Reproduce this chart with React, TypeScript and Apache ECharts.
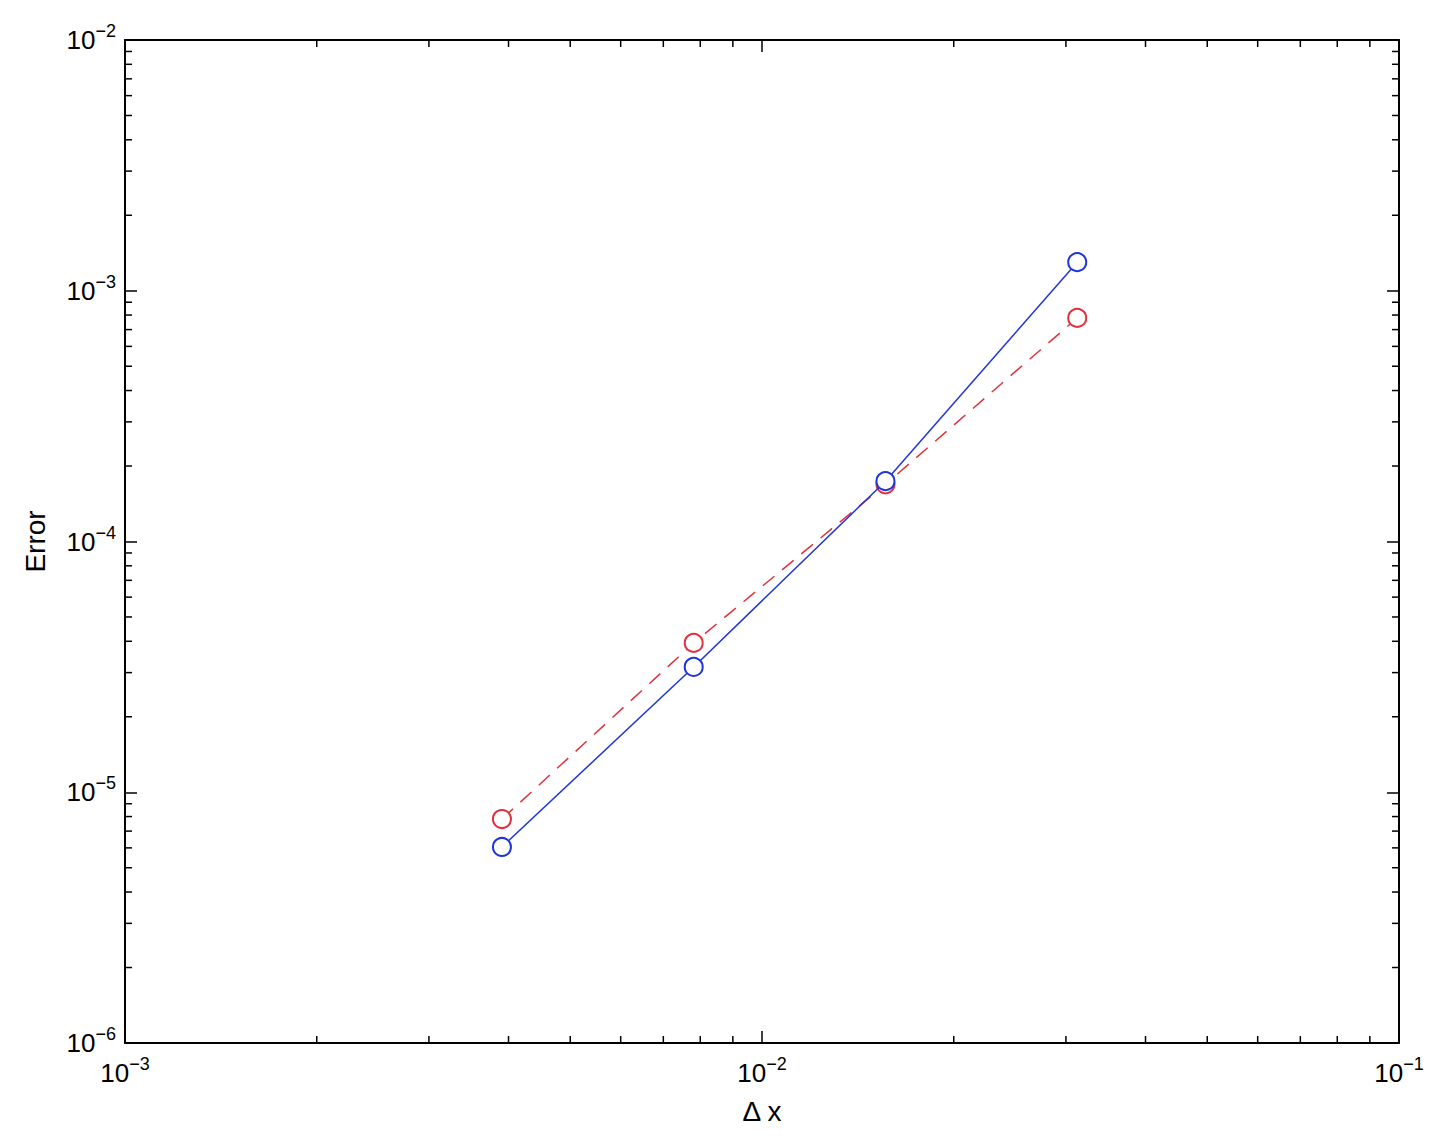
import React, { useEffect, useRef } from "react";
import * as echarts from "echarts";

const dx = [0.00390625, 0.0078125, 0.015625, 0.03125];
const errBlue = [6.05e-6, 3.16e-5, 1.74e-4, 1.3e-3];
const errRed = [7.82e-6, 3.94e-5, 1.69e-4, 7.79e-4];
const xRange = [1e-3, 1e-1];
const yRange = [1e-6, 1e-2];

function minorTicks(lo: number, hi: number): number[] {
  const out: number[] = [];
  for (let d = lo; d < hi * 0.999; d *= 10) {
    for (let m = 2; m <= 9; m++) out.push(d * m);
  }
  return out;
}

const FONT = "'Liberation Sans', Arial, Helvetica, sans-serif";

function expLabel(v: number) {
  const e = Math.round(Math.log10(v));
  return "{b|10}{sup|" + (e < 0 ? "\u2212" + -e : String(e)) + "}";
}

const labelRich = {
  b: { fontSize: 26, fontFamily: FONT, color: "#000" },
  sup: { fontSize: 18, fontFamily: FONT, color: "#000", padding: [0, 0, 18, 0] },
};

export default function App() {
  const ref = useRef<HTMLDivElement>(null);
  useEffect(() => {
    document.body.style.margin = "0";
    const chart = echarts.init(ref.current!, null, { renderer: "svg" });
    const xMinor = minorTicks(xRange[0], xRange[1]);
    const yMinor = minorTicks(yRange[0], yRange[1]);
    const tickStyle = { color: "#000", width: 1.5 };
    const axisLine = { show: true, lineStyle: { color: "#000", width: 2 } };
    chart.setOption({
      animation: false,
      backgroundColor: "#fff",
      grid: { left: 125, right: 35, top: 40, bottom: 97 },
      xAxis: [
        {
          type: "log",
          logBase: 10,
          min: xRange[0],
          max: xRange[1],
          position: "bottom",
          axisLine,
          axisTick: { inside: true, length: 12, lineStyle: tickStyle },
          splitLine: { show: false },
          axisLabel: {
            formatter: expLabel,
            fontSize: 26,
            fontFamily: FONT,
            color: "#000",
            margin: 12,
            rich: labelRich,
          },
          name: "\u0394 x",
          nameLocation: "middle",
          nameGap: 54,
          nameTextStyle: { fontSize: 28, fontFamily: FONT, color: "#000" },
        },
        {
          type: "log",
          logBase: 10,
          min: xRange[0],
          max: xRange[1],
          position: "top",
          axisLine,
          axisTick: { inside: true, length: 12, lineStyle: tickStyle },
          splitLine: { show: false },
          axisLabel: { show: false },
        },
      ],
      yAxis: [
        {
          type: "log",
          logBase: 10,
          min: yRange[0],
          max: yRange[1],
          position: "left",
          axisLine,
          axisTick: { inside: true, length: 12, lineStyle: tickStyle },
          splitLine: { show: false },
          axisLabel: {
            formatter: expLabel,
            fontSize: 26,
            fontFamily: FONT,
            color: "#000",
            margin: 9,
            rich: labelRich,
          },
          name: "Error",
          nameLocation: "middle",
          nameGap: 76,
          nameTextStyle: { fontSize: 28, fontFamily: FONT, color: "#000" },
        },
        {
          type: "log",
          logBase: 10,
          min: yRange[0],
          max: yRange[1],
          position: "right",
          axisLine,
          axisTick: { inside: true, length: 12, lineStyle: tickStyle },
          splitLine: { show: false },
          axisLabel: { show: false },
        },
      ],
      series: [
        {
          type: "line",
          name: "red",
          data: dx.map((x, i) => [x, errRed[i]]),
          symbol: "emptyCircle",
          symbolSize: 18,
          lineStyle: { color: "#e0323c", width: 1.5, type: [15, 10] },
          itemStyle: { color: "#e0323c", borderWidth: 1.5 },
          z: 3,
        },
        {
          type: "line",
          name: "blue",
          data: dx.map((x, i) => [x, errBlue[i]]),
          symbol: "emptyCircle",
          symbolSize: 18,
          lineStyle: { color: "#1f35dc", width: 1.5 },
          itemStyle: { color: "#1f35dc", borderWidth: 1.5 },
          z: 4,
        },
        {
          type: "custom",
          silent: true,
          clip: false,
          data: xMinor.map((v) => [v, 1e-4]),
          renderItem: (params: any, api: any) => {
            const v = api.value(0);
            const b = api.coord([v, yRange[0]]);
            const t = api.coord([v, yRange[1]]);
            return {
              type: "group",
              children: [
                { type: "line", shape: { x1: b[0], y1: b[1], x2: b[0], y2: b[1] - 7 }, style: { stroke: "#000", lineWidth: 1.5 } },
                { type: "line", shape: { x1: t[0], y1: t[1], x2: t[0], y2: t[1] + 7 }, style: { stroke: "#000", lineWidth: 1.5 } },
              ],
            };
          },
        },
        {
          type: "custom",
          silent: true,
          clip: false,
          data: yMinor.map((v) => [1e-2, v]),
          renderItem: (params: any, api: any) => {
            const v = api.value(1);
            const l = api.coord([xRange[0], v]);
            const r = api.coord([xRange[1], v]);
            return {
              type: "group",
              children: [
                { type: "line", shape: { x1: l[0], y1: l[1], x2: l[0] + 7, y2: l[1] }, style: { stroke: "#000", lineWidth: 1.5 } },
                { type: "line", shape: { x1: r[0], y1: r[1], x2: r[0] - 7, y2: r[1] }, style: { stroke: "#000", lineWidth: 1.5 } },
              ],
            };
          },
        },
      ],
    });
    return () => chart.dispose();
  }, []);
  return <div ref={ref} style={{ width: 1434, height: 1140 }} />;
}
